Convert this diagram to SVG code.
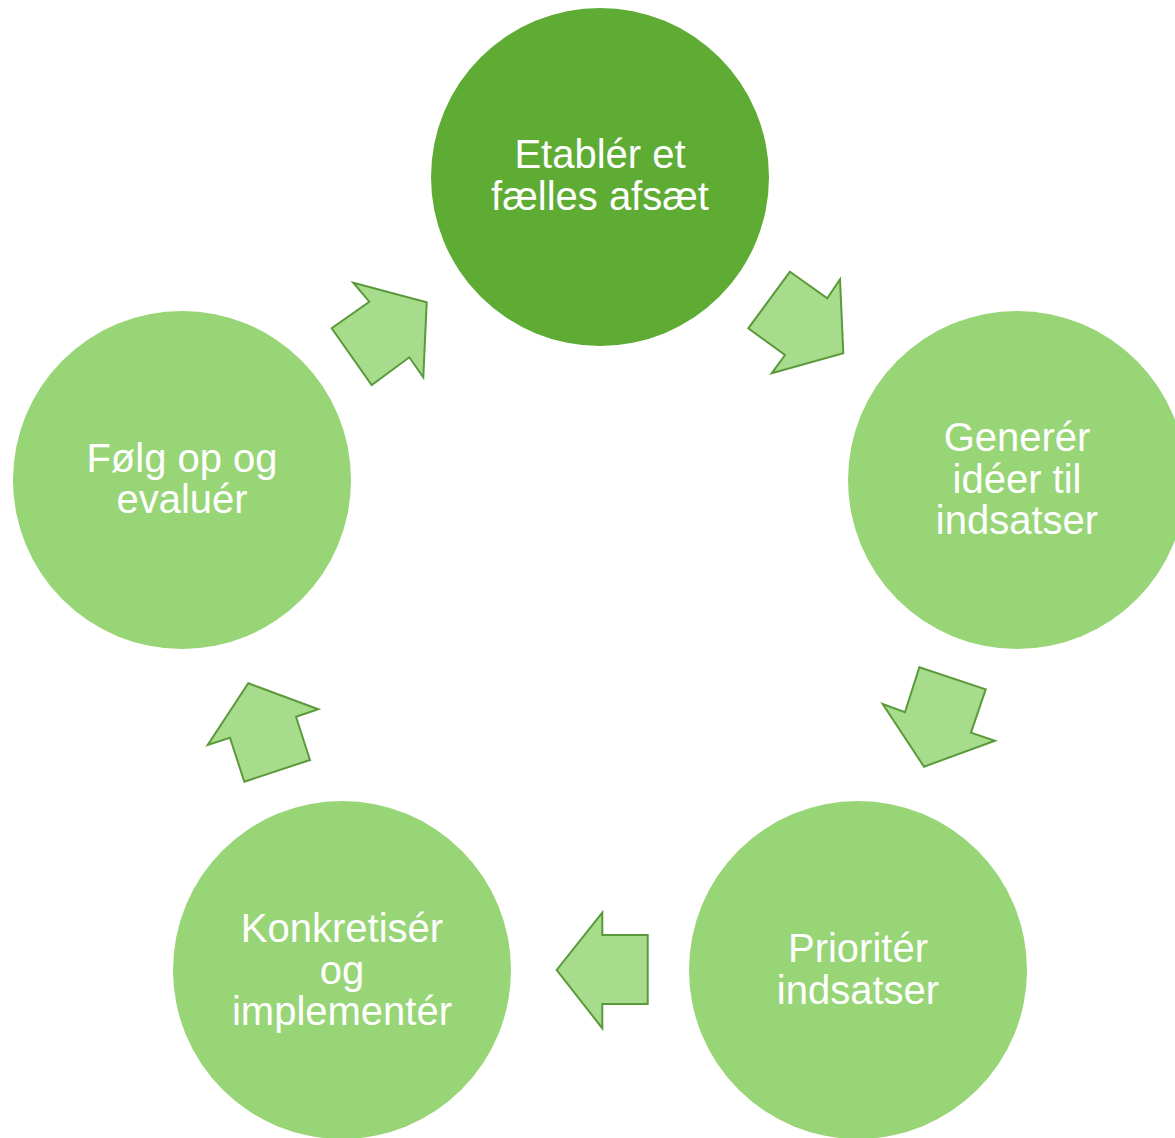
<svg xmlns="http://www.w3.org/2000/svg" width="1175" height="1138" viewBox="0 0 1175 1138">
<style>
.c{fill:#98d577}
.c0{fill:#5fac35}
.a{fill:#a7dc8d;stroke:#5a9a3a;stroke-width:2;stroke-linejoin:miter}
.t{fill:#ffffff;font-family:"Liberation Sans",Arial,sans-serif;font-size:40px;text-anchor:middle}
</style>
<rect width="1175" height="1138" fill="#ffffff"/>
<g id="node1"><circle class="c0" cx="600" cy="177" r="169"/><text class="t" x="600" y="168">Etablér et</text><text class="t" x="600" y="210">fælles afsæt</text></g>
<g id="node2"><circle class="c" cx="1017" cy="480" r="169"/><text class="t" x="1017" y="451">Generér</text><text class="t" x="1017" y="493">idéer til</text><text class="t" x="1017" y="534">indsatser</text></g>
<g id="node3"><circle class="c" cx="858" cy="970" r="169"/><text class="t" x="858" y="962">Prioritér</text><text class="t" x="858" y="1004">indsatser</text></g>
<g id="node4"><circle class="c" cx="342" cy="970" r="169"/><text class="t" x="342" y="942">Konkretisér</text><text class="t" x="342" y="984">og</text><text class="t" x="342" y="1025">implementér</text></g>
<g id="node5"><circle class="c" cx="182" cy="480" r="169"/><text class="t" x="182" y="472">Følg op og</text><text class="t" x="182" y="513">evaluér</text></g>
<g id="connectors">
<polygon class="a" points="790,271.7 827.3,298.3 840,279.3 843.3,353.3 771.7,373.3 785,355 748.3,328.3"/>
<polygon class="a" points="919.3,667.3 985.7,689.3 971,732.7 995,740.7 924,766.7 882.7,704 905,712.3"/>
<polygon class="a" points="602.3,912.7 602.3,935 647.7,935 647.7,1004 602.3,1004 602.3,1028.3 556.7,970"/>
<polygon class="a" points="248.3,683.3 318.3,709.3 296,716.7 310,760 244.3,781.7 230,737.7 207.7,745"/>
<polygon class="a" points="353.3,282.7 426.7,302.3 423.3,377.3 409.3,357.3 371.7,385 331.7,328.3 369.3,301.7"/>
</g>
</svg>
